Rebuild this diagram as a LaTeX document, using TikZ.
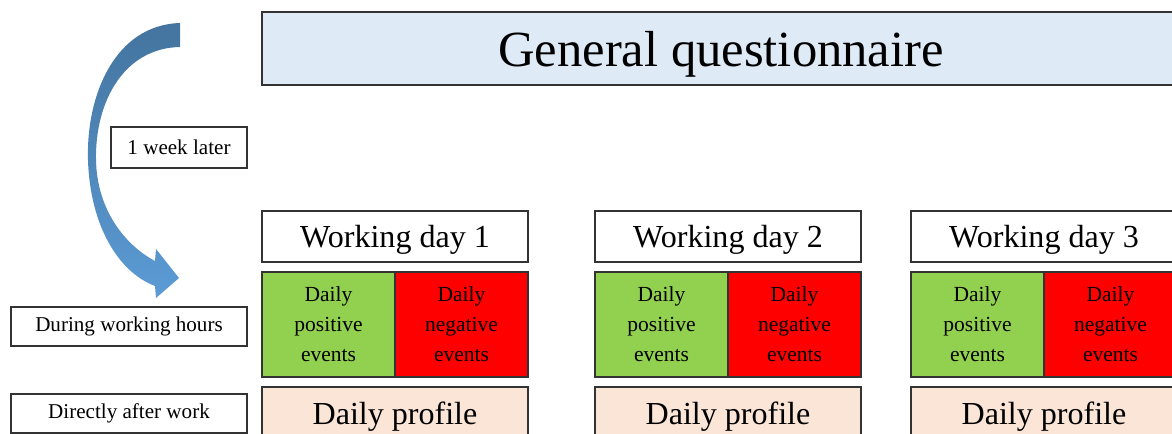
\documentclass[tikz,border=0pt]{standalone}
\usepackage{fontspec}
\setmainfont{Liberation Serif}
\usetikzlibrary{positioning}

\definecolor{gqblue}{HTML}{DEEAF6}
\definecolor{profpeach}{HTML}{FBE5D6}
\definecolor{posgreen}{HTML}{92D050}
\definecolor{negred}{HTML}{FF0000}
\definecolor{arrowdark}{HTML}{44749F}
\definecolor{arrowlight}{HTML}{5B9BD5}
\definecolor{edge}{HTML}{333333}

\tikzset{
    box/.style={draw=edge, line width=1pt, inner sep=2pt, outer sep=0pt},
    gqbox/.style={box, fill=gqblue, minimum width=22.95cm, minimum height=1.825cm,
        text depth=0pt, font=\fontsize{36}{40}\selectfont},
    daybox/.style={box, fill=white, minimum width=6.65cm, minimum height=1.275cm,
        text depth=0pt, font=\fontsize{22.8}{26}\selectfont},
    evbox/.style={box, minimum width=3.325cm, minimum height=2.625cm, align=center,
        font=\fontsize{15.3}{21.3}\selectfont},
    profbox/.style={box, fill=profpeach, minimum width=6.65cm, minimum height=1.3cm,
        text depth=0pt, font=\fontsize{22.8}{26}\selectfont},
    labelbox/.style={box, fill=white, minimum height=0.975cm,
        font=\fontsize{15}{18}\selectfont}
}

\begin{document}
\begin{tikzpicture}[x=0.025cm, y=-0.025cm]
    \useasboundingbox (0,0) rectangle (1172,434);

    % General questionnaire
    \node[gqbox] (gq) at (721,48.5) {General questionnaire};

    % Curved arrow (1 week later)
    \coordinate (tailtop) at (180,23);
    \coordinate (tailbot) at (180,47);
    \coordinate (tip) at (179,278);
    \path[top color=arrowdark, bottom color=arrowlight]
        (tailtop) .. controls (115,25) and (86,95) .. (88,160)
        .. controls (90,225) and (118,272) .. (155,286)
        -- (156,298) -- (tip) -- (156,249) -- (155,261)
        .. controls (125,245) and (97,210) .. (96,160)
        .. controls (95,100) and (125,48) .. (tailbot) -- cycle;

    % Left labels
    \node[labelbox, minimum width=3.4cm, minimum height=1.025cm] (week) at (179,147.5) {1 week later};
    \node[labelbox, minimum width=5.9cm] (during) at (129,326.5) {During working hours};
    \node[labelbox, minimum width=5.9cm] (after) at (129,413.5) {Directly after work};

    % Working days
    \foreach \i/\x in {1/395, 2/728, 3/1044} {
        \node[daybox] (day\i) at (\x,236.5) {Working day \i};
        \node[evbox, fill=posgreen, below=0.25cm of day\i.south west, anchor=north west]
            (pos\i) {Daily\\positive\\events};
        \node[evbox, fill=negred, right=0pt of pos\i] (neg\i) {Daily\\negative\\events};
        \node[profbox, below=0.25cm of pos\i.south west, anchor=north west]
            (prof\i) {Daily profile};
    }
\end{tikzpicture}
\end{document}
